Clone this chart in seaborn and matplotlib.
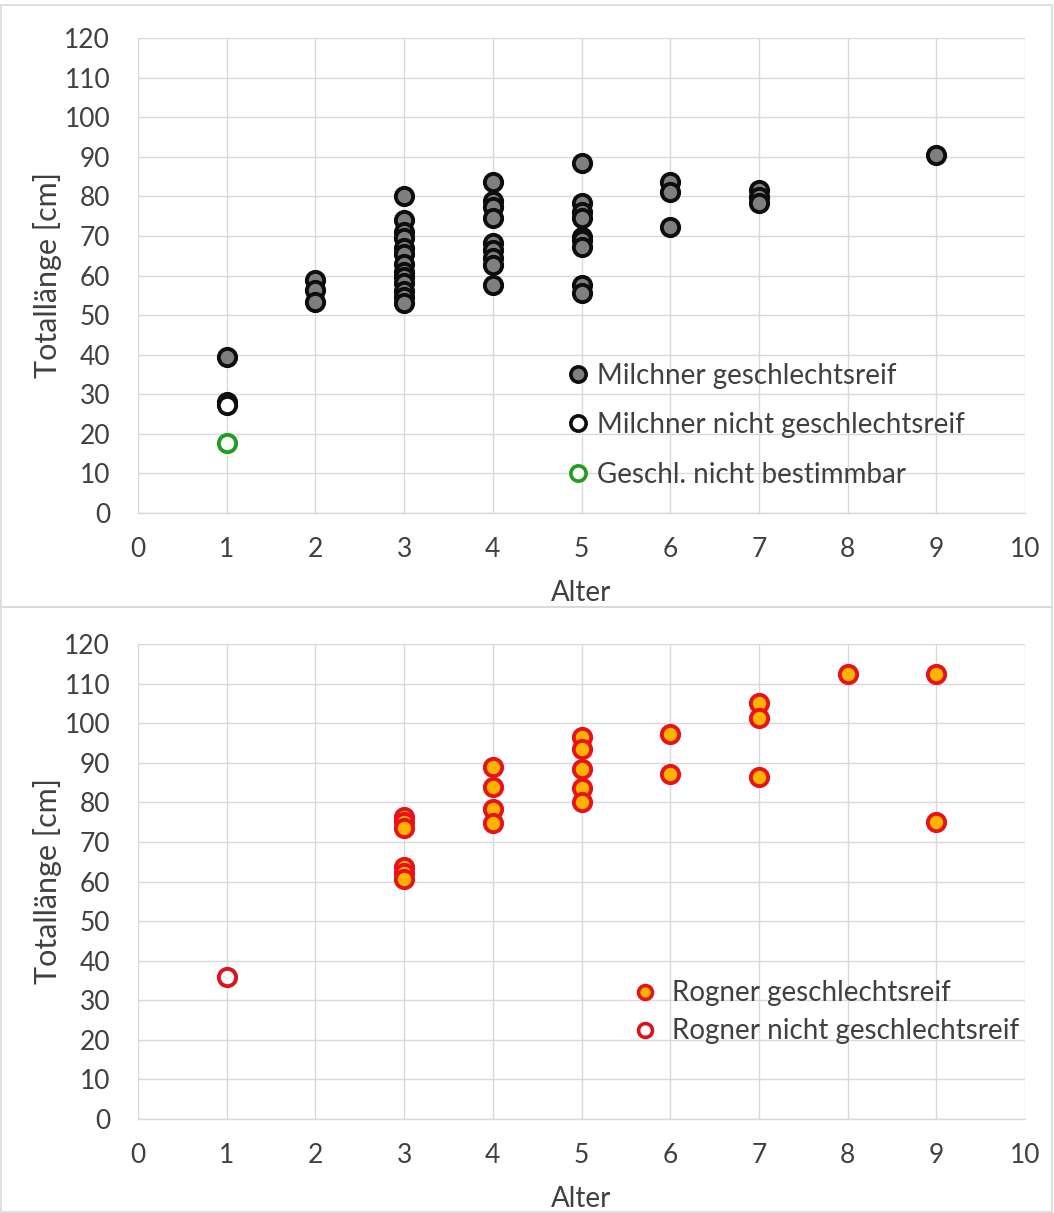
import matplotlib
matplotlib.use("Agg")
import matplotlib.pyplot as plt
from matplotlib.lines import Line2D
from matplotlib.patches import Rectangle
import seaborn as sns
import pandas as pd

# ---------------- data ----------------
milchner_reif_alter = [1, 2, 2, 2,
                       3, 3, 3, 3, 3, 3, 3, 3, 3, 3, 3, 3, 3,
                       4, 4, 4, 4, 4, 4, 4, 4, 4,
                       5, 5, 5, 5, 5, 5, 5, 5, 5,
                       6, 6, 6, 7, 7, 7, 9]
milchner_reif_laenge = [39.3, 58.9, 56.3, 53.2,
                        80, 74, 71, 69.5, 67, 65.5, 63, 61, 59.5, 58, 56, 54.5, 53,
                        83.7, 78.7, 77.4, 74.5, 68.1, 66.4, 64.4, 62.7, 57.6,
                        88.4, 78.3, 76.1, 74.5, 69.8, 69.0, 67.3, 57.6, 55.5,
                        83.7, 81.2, 72.3, 81.6, 79.9, 78.2, 90.4]
milchner_nicht_alter = [1, 1]
milchner_nicht_laenge = [28.0, 27.3]
unbestimmt_alter = [1]
unbestimmt_laenge = [17.6]

rogner_reif_alter = [3, 3, 3, 3, 3, 3,
                     4, 4, 4, 4,
                     5, 5, 5, 5, 5,
                     6, 6, 7, 7, 7, 8, 9, 9]
rogner_reif_laenge = [76.4, 75.1, 73.4, 63.7, 62.1, 60.6,
                      89.0, 83.8, 78.2, 74.9,
                      96.4, 93.4, 88.4, 83.7, 80.1,
                      97.3, 87.2, 105.2, 101.4, 86.3, 112.4, 112.4, 75.1]
rogner_nicht_alter = [1]
rogner_nicht_laenge = [36.0]

labels_top = ["Milchner geschlechtsreif", "Milchner nicht geschlechtsreif",
              "Geschl. nicht bestimmbar"]
labels_bottom = ["Rogner geschlechtsreif", "Rogner nicht geschlechtsreif"]
x_ticks = list(range(0, 11))
y_ticks = list(range(0, 121, 10))

# ---------------- style ----------------
sns.set_theme(style="whitegrid")
plt.rcParams["font.family"] = ["Lato", "DejaVu Sans"]
plt.rcParams["axes.unicode_minus"] = False

W, H = 1054, 1213
fig = plt.figure(figsize=(W / 100, H / 100), dpi=100)
fig.patch.set_facecolor("white")

def frac_axes(left, top, right, bottom):
    return [left / W, 1 - bottom / H, (right - left) / W, (bottom - top) / H]

ax1 = fig.add_axes(frac_axes(138, 38, 1025, 513))
ax2 = fig.add_axes(frac_axes(138, 644, 1025, 1119))

GRID = "#d9d9d9"
TXT = "#404040"
MS = 155
LW = 2.8

def style_axis(ax):
    ax.set_xlim(0, 10)
    ax.set_ylim(0, 120)
    ax.set_xticks(x_ticks)
    ax.set_yticks(y_ticks)
    ax.grid(True, color=GRID, linewidth=1.0)
    ax.set_axisbelow(True)
    for s in ["top", "right", "left"]:
        ax.spines[s].set_visible(False)
    ax.spines["bottom"].set_color(GRID)
    ax.spines["bottom"].set_linewidth(1.0)
    ax.tick_params(axis="both", labelsize=19, colors=TXT, length=0)
    ax.tick_params(axis="x", pad=17)
    ax.tick_params(axis="y", pad=20)
    ax.set_xlabel("Alter", fontsize=20, color=TXT, labelpad=13)
    ax.set_ylabel("Totallänge [cm]", fontsize=22, color=TXT, labelpad=2)
    ax.set_facecolor("white")

# top panel
df_mr = pd.DataFrame({"Alter": milchner_reif_alter, "Laenge": milchner_reif_laenge})
df_mn = pd.DataFrame({"Alter": milchner_nicht_alter, "Laenge": milchner_nicht_laenge})
df_u = pd.DataFrame({"Alter": unbestimmt_alter, "Laenge": unbestimmt_laenge})

sns.scatterplot(data=df_mr, x="Alter", y="Laenge", ax=ax1, s=MS, color="#7f7f7f",
                edgecolor="#0d0d0d", linewidth=LW, zorder=3, legend=False)
sns.scatterplot(data=df_mn, x="Alter", y="Laenge", ax=ax1, s=MS, color="white",
                edgecolor="#0d0d0d", linewidth=LW, zorder=3, legend=False)
sns.scatterplot(data=df_u, x="Alter", y="Laenge", ax=ax1, s=MS, color="white",
                edgecolor="#1f9e1f", linewidth=LW, zorder=3, legend=False)
style_axis(ax1)

h_top = [
    Line2D([], [], linestyle="none", marker="o", markersize=11, markerfacecolor="#7f7f7f",
           markeredgecolor="#0d0d0d", markeredgewidth=2.6),
    Line2D([], [], linestyle="none", marker="o", markersize=11, markerfacecolor="white",
           markeredgecolor="#0d0d0d", markeredgewidth=2.6),
    Line2D([], [], linestyle="none", marker="o", markersize=11, markerfacecolor="white",
           markeredgecolor="#1f9e1f", markeredgewidth=2.6),
]
leg1 = ax1.legend(h_top, labels_top, loc="upper left", bbox_to_anchor=(0.4837, 0.3168),
                  frameon=False, fontsize=20, handlelength=0.8, handletextpad=0.29,
                  labelspacing=0.85, borderaxespad=0, borderpad=0)
for t in leg1.get_texts():
    t.set_color(TXT)

# bottom panel
df_rr = pd.DataFrame({"Alter": rogner_reif_alter, "Laenge": rogner_reif_laenge})
df_rn = pd.DataFrame({"Alter": rogner_nicht_alter, "Laenge": rogner_nicht_laenge})
sns.scatterplot(data=df_rr, x="Alter", y="Laenge", ax=ax2, s=MS, color="#ffb300",
                edgecolor="#e8121a", linewidth=LW, zorder=3, legend=False)
sns.scatterplot(data=df_rn, x="Alter", y="Laenge", ax=ax2, s=MS, color="white",
                edgecolor="#d9141e", linewidth=LW, zorder=3, legend=False)
style_axis(ax2)

h_bot = [
    Line2D([], [], linestyle="none", marker="o", markersize=10, markerfacecolor="#ffb300",
           markeredgecolor="#e8121a", markeredgewidth=2.6),
    Line2D([], [], linestyle="none", marker="o", markersize=10, markerfacecolor="white",
           markeredgecolor="#d9141e", markeredgewidth=2.6),
]
leg2 = ax2.legend(h_bot, labels_bottom, loc="upper left", bbox_to_anchor=(0.5592, 0.2916),
                  frameon=False, fontsize=20, handlelength=0.8, handletextpad=0.58,
                  labelspacing=0.43, borderaxespad=0, borderpad=0)
for t in leg2.get_texts():
    t.set_color(TXT)

# chart-area borders
for (y0, y1) in [(5, 607), (607, 1212)]:
    fig.patches.append(Rectangle((1 / W, 1 - y1 / H), (W - 3) / W, (y1 - y0) / H,
                                 transform=fig.transFigure, fill=False,
                                 edgecolor="#d9d9d9", linewidth=1.2))

fig.savefig("out.png", dpi=100, facecolor="white")
